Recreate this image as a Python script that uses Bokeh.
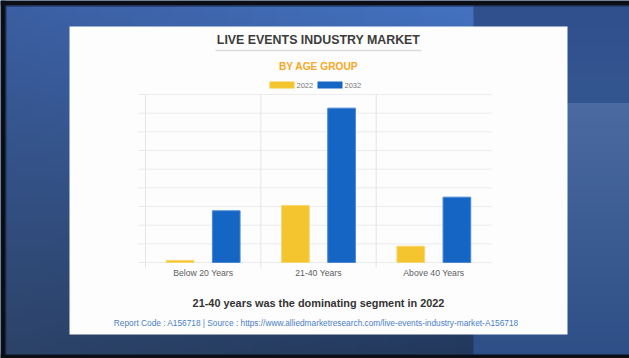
import numpy as np
from bokeh.plotting import figure
from bokeh.models import Range1d
from bokeh.core.properties import value
from bokeh.embed import file_html
from bokeh.resources import INLINE

# ---------------- data ----------------
categories = ["Below 20 Years", "21-40 Years", "Above 40 Years"]
series_names = ["2022", "2032"]
values_2022 = [1.1, 30.5, 8.7]
values_2032 = [27.7, 82.7, 35.0]
grid_ticks = [0, 10, 20, 30, 40, 50, 60, 70, 80, 90]

title_text = "LIVE EVENTS INDUSTRY MARKET"
subtitle_text = "BY AGE GROUP"
caption_text = "21-40 years was the dominating segment in 2022"
source_text = ("Report Code : A156718  |  Source : "
               "https://www.alliedmarketresearch.com/live-events-industry-market-A156718")

# ---------------- layout (pixels, from top-left) ----------------
W, H = 629, 358
PL, PR, PT, PB = 145, 491, 94, 262          # plot area
CARD = (69, 567, 26, 334)                    # left, right, top, bottom
Y_MAX = grid_ticks[-1]
N = len(categories)
FONT = value("Liberation Sans")

YELLOW = "#f5c52f"
BLUE = "#1565c4"

def up(y):  # pixel-from-top -> main y coordinate
    return H - y

ppu_x = (PR - PL) / N
ppu_y = (PB - PT) / Y_MAX

p = figure(width=W, height=H, output_backend="svg", toolbar_location=None,
           x_range=Range1d(0, W), y_range=Range1d(0, H), min_border=0)
p.axis.visible = False
p.grid.visible = False
p.outline_line_color = None
p.background_fill_color = "#2f5089"
p.border_fill_color = "#2f5089"

p.extra_x_ranges = {"cat": Range1d(-PL / ppu_x, (W - PL) / ppu_x)}
p.extra_y_ranges = {"val": Range1d(-(H - PB) / ppu_y, PB / ppu_y)}

# ---------------- background (slide gradient drawn as small tiles) ----------------
def hexrgb(h):
    h = h.lstrip("#")
    return np.array([int(h[i:i + 2], 16) for i in (0, 2, 4)], dtype=float)

def tohex(c):
    c = np.clip(np.round(c), 0, 255).astype(int)
    return "#%02x%02x%02x" % tuple(c)

SPLIT_X, SPLIT_Y = 473, 103
L0, T0, B0 = 5, 5, 354
tl, tr, bl, br = hexrgb("#3b5fa3"), hexrgb("#4473c2"), hexrgb("#2c4267"), hexrgb("#22375a")
lefts, rights, tops, bottoms, cols = [], [], [], [], []
step = 8
xs = np.arange(L0, SPLIT_X, step)
ys = np.arange(T0, B0, step)
for y in ys:
    y2 = min(y + step, B0)
    v = ((y + y2) / 2) / H
    for x in xs:
        x2 = min(x + step, SPLIT_X)
        u = ((x + x2) / 2) / SPLIT_X
        c = tl * (1 - u) * (1 - v) + tr * u * (1 - v) + bl * (1 - u) * v + br * u * v
        lefts.append(x); rights.append(x2 + 0.6)
        tops.append(up(y) + 0.6); bottoms.append(up(y2))
        cols.append(tohex(c))
sstep = 4
for y in np.arange(T0, SPLIT_Y, sstep):
    y2 = min(y + sstep, SPLIT_Y)
    t = ((y + y2) / 2 - T0) / (SPLIT_Y - T0)
    c = hexrgb("#2f4f8d") * (1 - t) + hexrgb("#33558f") * t
    lefts.append(SPLIT_X); rights.append(W)
    tops.append(up(y) + 0.6); bottoms.append(up(y2)); cols.append(tohex(c))
for y in np.arange(SPLIT_Y, B0, sstep):
    y2 = min(y + sstep, B0)
    t = ((y + y2) / 2 - SPLIT_Y) / (B0 - SPLIT_Y)
    c = hexrgb("#4a6aa1") * (1 - t) + hexrgb("#2d4e86") * t
    lefts.append(SPLIT_X); rights.append(W)
    tops.append(up(y) + 0.6); bottoms.append(up(y2)); cols.append(tohex(c))
p.quad(left=lefts, right=rights, top=tops, bottom=bottoms, fill_color=cols, line_color=None)

# dark frame: top, left, bottom
p.quad(left=[0, 0, 0], right=[W, 5, W], top=[H, H, up(354)], bottom=[up(5), 0, 0],
       fill_color="#0b0e15", line_color=None)
p.quad(left=[5, 5], right=[W, 6], top=[up(5), up(5)], bottom=[up(6), up(354)],
       fill_color="#1c2d50", line_color=None)

# ---------------- card ----------------
cl, cr, ct, cb = CARD
p.quad(left=cl, right=cr, top=up(ct), bottom=up(cb), fill_color="#fdfdfd", line_color=None)

# ---------------- titles ----------------
p.text(x=[318], y=[up(39.5)], text=[title_text], text_font=FONT, text_font_size="12.4px",
       text_font_style="bold", text_color="#3c3c3c", text_align="center", text_baseline="middle")
p.segment(x0=[215], x1=[421], y0=[up(50)], y1=[up(50)], line_color="#dcdcdc", line_width=1.5)
p.text(x=[318], y=[up(65.5)], text=[subtitle_text], text_font=FONT, text_font_size="10.2px",
       text_font_style="bold", text_color="#f7a823", text_align="center", text_baseline="middle")

# ---------------- legend ----------------
leg_x = [269, 317]
leg_colors = [YELLOW, BLUE]
p.quad(left=leg_x, right=[x + 25 for x in leg_x], top=[up(81)] * 2, bottom=[up(88)] * 2,
       fill_color=leg_colors, line_color=None)
p.text(x=[x + 27 for x in leg_x], y=[up(84.7)] * 2, text=series_names, text_font=FONT,
       text_font_size="7.5px", text_color="#777777", text_align="left", text_baseline="middle")

# ---------------- grid ----------------
ext_left = 7 / ppu_x
p.segment(x0=[-ext_left] * len(grid_ticks), x1=[N] * len(grid_ticks),
          y0=grid_ticks, y1=grid_ticks, line_color="#ebebeb", line_width=1,
          x_range_name="cat", y_range_name="val")
ext_down = 5 / ppu_y
vx = list(range(N))
p.segment(x0=vx, x1=vx, y0=[Y_MAX] * N, y1=[-ext_down] * N, line_color="#e4e4e4", line_width=1,
          x_range_name="cat", y_range_name="val")

# ---------------- bars ----------------
centers = [i + 0.5 for i in range(N)]
bw = 0.24
off = 0.2
p.vbar(x=[c - off for c in centers], top=values_2022, bottom=0, width=bw,
       fill_color=YELLOW, line_color="#f8d66e", line_width=1,
       x_range_name="cat", y_range_name="val")
p.vbar(x=[c + off for c in centers], top=values_2032, bottom=0, width=bw,
       fill_color=BLUE, line_color="#4a88d6", line_width=1,
       x_range_name="cat", y_range_name="val")

# category labels
p.text(x=centers, y=[up(272)] * N, text=categories, text_font=FONT, text_font_size="8.7px",
       text_color="#5e5e5e", text_align="center", text_baseline="middle", x_range_name="cat")

# ---------------- captions ----------------
p.text(x=[318], y=[up(302)], text=[caption_text], text_font=FONT, text_font_size="10.9px",
       text_font_style="bold", text_color="#333333", text_align="center", text_baseline="middle")
p.text(x=[318], y=[up(322)], text=[source_text], text_font=FONT, text_font_size="8.3px",
       text_color="#4a80c6", text_align="center", text_baseline="middle")

open("out.html", "w").write(file_html(p, INLINE))
